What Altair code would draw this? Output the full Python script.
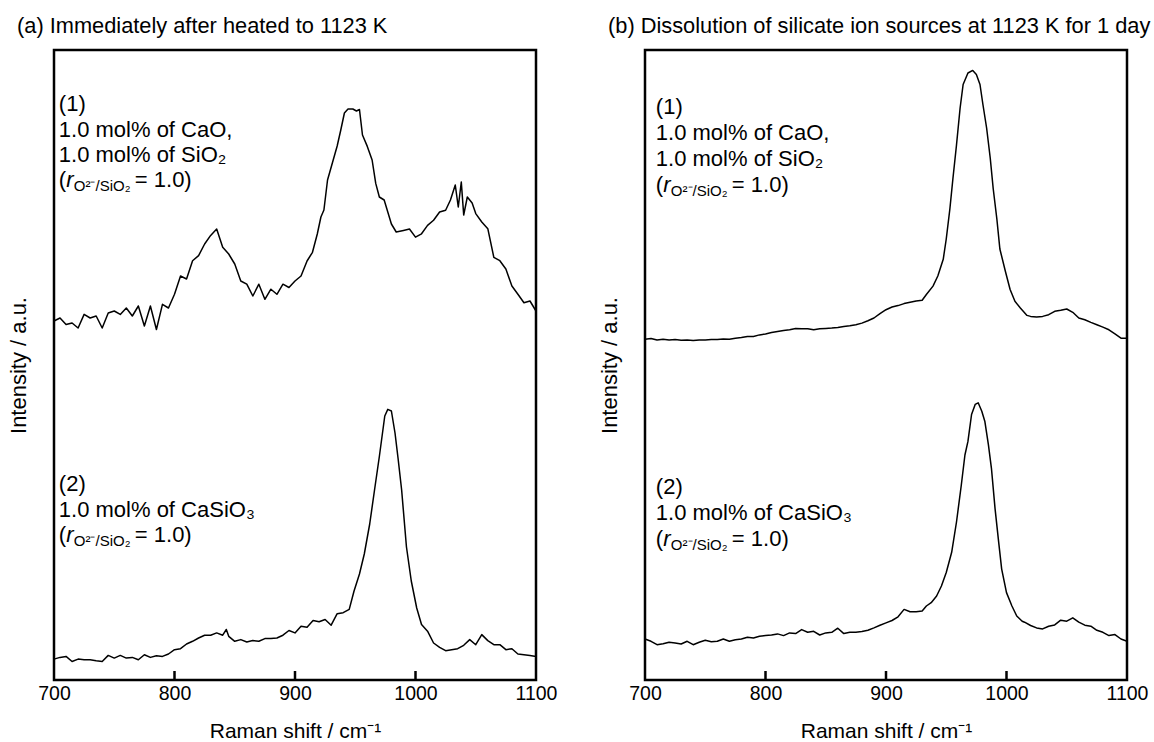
import altair as alt
import pandas as pd

# ---------------- data ----------------
# (a)(1) CaO + SiO2, immediately after heating
a1_x = list(range(700, 915, 5)) + [914.5, 918.5, 921.5, 924, 927, 931, 935, 938, 941, 944, 948, 951,
                                   953.5, 956, 960, 964, 967, 970, 974, 977, 980, 984, 990, 995, 1000,
                                   1005, 1010, 1015, 1020, 1025, 1029, 1033, 1035.5, 1038, 1040, 1043,
                                   1047, 1050, 1055, 1060, 1065, 1070, 1075, 1080, 1085, 1090, 1095, 1100]
a1_y = [359, 362, 355.5, 357, 352, 365.6, 362, 364, 352, 367, 369, 365.6, 372, 364, 374, 354, 374, 350.5,
        375.7, 372, 385.7, 404, 401, 419.3, 424.4, 436, 444.6, 451, 432.8, 426, 416, 399, 395.8, 384,
        395.8, 380.7, 390.8, 385.7, 395.8, 392.5, 399, 404, 419,
        427.7, 446, 463, 470, 500, 517, 534, 550, 567, 571, 571, 569, 570.5, 545, 533.6, 520, 496.6, 483,
        480, 468, 456, 448, 449.6, 451, 442.9, 446.2, 454.6, 459.7, 468, 469.8, 480, 495, 473, 498, 465,
        483, 477, 466.4, 458, 451.3, 422.7, 419.3, 411, 394, 385.7, 377.3, 379, 369]

# (a)(2) CaSiO3, immediately after heating
a2_x = list(range(700, 845, 5)) + [843] + list(range(845, 945, 5)) + [
    945, 949, 953.5, 957.5, 962, 966, 970, 974.5, 977, 980, 983, 985.5, 988.5, 992.5, 996.5, 1001, 1005
] + list(range(1010, 1105, 5))
a2_y = [20.9, 22.6, 23.6, 18.5, 20.9, 20.2, 20.2, 19.2, 18.5, 24.6, 21.9, 24.6, 21.9, 22.6, 20.2, 25.3,
        22.6, 24.3, 23.6, 26, 30.3, 31.3, 36, 38.7, 42, 44.8, 44.8, 47.1, 44.8, 50.5, 43.7, 38.7, 40.4, 38,
        39.4, 38.7, 41.4, 41.4, 42, 44.8, 49.5, 47.1, 53.8, 52.8, 59.5, 58.2, 60.5, 54.8, 66.3, 67.3,
        70.6, 89, 106, 126, 156, 190, 223.5, 264, 270.6, 269, 247, 222, 190, 133, 99, 72, 55.5,
        48.8, 37, 32.7, 29.3, 30.3, 31.3, 34.7, 40.4, 35.3, 45.4, 39.4, 35.3, 35.3, 30.3, 31.3, 26, 25.3,
        24.6, 23.6]

# (b)(1) CaO + SiO2, after 1 day
b1_x = list(range(700, 935, 5)) + [933.5, 939, 943, 947.5, 950, 953, 955.5, 958.5, 961.5, 964, 968, 972,
                                   975, 978, 980.5, 983.5, 986.5, 989, 992, 994.5, 999, 1003, 1007,
                                   1011.5, 1017] + list(range(1020, 1105, 5))
b1_y = [340.8, 341.4, 340.1, 340.8, 340.1, 340.4, 339.8, 340.1, 339.4, 340.1, 340.1, 340.4, 340.4, 341.1,
        340.8, 341.8, 342.5, 343.5, 343.5, 345.1, 346.1, 347.5, 348.5, 349.5, 350.2, 351.5, 351.2, 351.2,
        350.2, 351.2, 351.5, 351.9, 352.5, 353.5, 354.2, 355.2, 356.9, 359.3, 362, 366.3, 370.3, 373,
        374.4, 376.4, 377.7, 379.1, 379.8,
        385.5, 393.9, 404, 420.7, 441, 471, 501, 535, 572, 595.5, 607, 609.6, 605.6, 595.5, 575, 552, 522,
        491, 461, 431, 409, 390.5, 378.7, 372, 364.6,
        363.6, 362.9, 363.6, 365.3, 368.7, 369.7, 371, 367.7, 362, 360.3, 357.6, 355.2, 352.9, 350.2,
        346.1, 341.8, 341.8]

# (b)(2) CaSiO3, after 1 day
b2_x = list(range(700, 935, 5)) + [933.5, 937.5, 942, 946, 950, 954.5, 958.5, 962.5, 965.5, 968, 971,
                                   974, 976.5, 979.5, 982, 985, 987.5, 990.5, 993.5, 996, 1000, 1004.5,
                                   1008.5, 1013] + list(range(1015, 1105, 5))
b2_y = [41, 38.7, 35.3, 36.3, 37.7, 37, 36, 38.7, 35.3, 37.7, 39.7, 38.3, 38.7, 41, 38.7, 40.3, 41, 42.7,
        42, 43.7, 44.4, 45, 46.1, 44.4, 47.1, 46.4, 50.4, 47.7, 48.7, 45, 47.1, 47.7, 51.8, 46.4, 47.7,
        47.7, 48.4, 49.7, 52.1, 54.8, 57.1, 59.5, 63.2, 70.6, 68.2, 68.2, 68.9,
        74, 77.3, 84, 94, 107.5, 127.7, 158, 195, 225, 238.6, 265.5, 275.6, 277.2, 268.8, 258.8, 235.2,
        211.7, 171.4, 137.8, 110.9, 87.4, 74, 64, 58.8,
        57.8, 54.5, 52.1, 51.1, 53.8, 55.1, 59.8, 58.8, 62.2, 57.8, 54.8, 53.8, 49.7, 47.7, 44.4, 45.4,
        41, 38.7]

x_ticks = [700, 800, 900, 1000, 1100]
inner_ticks = [800, 900, 1000]

titles = ["(a) Immediately after heated to 1123 K",
          "(b) Dissolution of silicate ion sources at 1123 K for 1 day"]

top_lines = ["(1)", "1.0 mol% of CaO,", "1.0 mol% of SiO₂", "("]
bot_lines = ["(2)", "1.0 mol% of CaSiO₃", "("]
left_ann_x = 704
left_top_y = [569, 543, 518, 493]
left_bot_y = [189, 163, 138]
right_ann_x = 709
right_top_y = [566, 540, 514, 488]
right_bot_y = [186, 160, 134]

# ---------------- chart ----------------
FONT = "Liberation Sans"
W, H = 482, 630
ANN_FS = 22

assert len(a1_x) == len(a1_y), (len(a1_x), len(a1_y))
assert len(a2_x) == len(a2_y), (len(a2_x), len(a2_y))
assert len(b1_x) == len(b1_y), (len(b1_x), len(b1_y))
assert len(b2_x) == len(b2_y), (len(b2_x), len(b2_y))


def panel(title, s1x, s1y, s2x, s2y, ax, top_y, bot_y):
    df = pd.concat([
        pd.DataFrame({"shift": s1x, "intensity": s1y, "series": "1"}),
        pd.DataFrame({"shift": s2x, "intensity": s2y, "series": "2"}),
    ])
    xsc = alt.Scale(domain=[700, 1100], nice=False, zero=False)
    ysc = alt.Scale(domain=[0, 630], nice=False, zero=False)

    lines = alt.Chart(df).mark_line(color="black", strokeWidth=1.5, strokeJoin="round").encode(
        x=alt.X("shift:Q", scale=xsc,
                axis=alt.Axis(values=x_ticks, format="d", title="Raman shift / cm⁻¹",
                              ticks=False, domain=False, grid=False, labelFontSize=19.5,
                              labelPadding=4, titleFontSize=21, titlePadding=18,
                              labelFlush=False)),
        y=alt.Y("intensity:Q", scale=ysc,
                axis=alt.Axis(title="Intensity / a.u.", labels=False, ticks=False, domain=False,
                              grid=False, titleFontSize=22, titlePadding=24, minExtent=0, maxExtent=0)),
        detail="series:N",
    )

    ticks = alt.Chart(pd.DataFrame({"shift": inner_ticks})).mark_rule(
        color="black", strokeWidth=2.5).encode(
        x=alt.X("shift:Q", scale=xsc), y=alt.value(H), y2=alt.value(H - 9))

    rows = pd.DataFrame({
        "shift": [ax] * (len(top_lines) + len(bot_lines)),
        "intensity": top_y + bot_y,
        "label": top_lines + bot_lines,
    })
    text = alt.Chart(rows).mark_text(align="left", baseline="alphabetic", fontSize=ANN_FS,
                                     font=FONT, color="black").encode(
        x=alt.X("shift:Q", scale=xsc), y=alt.Y("intensity:Q", scale=ysc), text="label:N")

    ratio = pd.DataFrame({"shift": [ax, ax], "intensity": [top_y[-1], bot_y[-1]]})
    r_it = alt.Chart(ratio).mark_text(align="left", baseline="alphabetic", fontSize=ANN_FS,
                                      font=FONT, fontStyle="italic", color="black", dx=7.5,
                                      text="r").encode(
        x=alt.X("shift:Q", scale=xsc), y=alt.Y("intensity:Q", scale=ysc))
    r_sub = alt.Chart(ratio).mark_text(align="left", baseline="alphabetic", fontSize=15,
                                       font=FONT, color="black", dx=15, dy=4,
                                       text="O²⁻/SiO₂").encode(
        x=alt.X("shift:Q", scale=xsc), y=alt.Y("intensity:Q", scale=ysc))
    r_rest = alt.Chart(ratio).mark_text(align="left", baseline="alphabetic", fontSize=ANN_FS,
                                        font=FONT, color="black", dx=76,
                                        text="= 1.0)").encode(
        x=alt.X("shift:Q", scale=xsc), y=alt.Y("intensity:Q", scale=ysc))

    head = alt.Chart(pd.DataFrame({"t": [title]})).mark_text(
        align="left", baseline="alphabetic", fontSize=21.8, font=FONT, color="black").encode(
        text="t:N", x=alt.value(-37), y=alt.value(-17.5))

    return alt.layer(lines, ticks, text, r_it, r_sub, r_rest, head).properties(width=W, height=H)


left = panel(titles[0], a1_x, a1_y, a2_x, a2_y, left_ann_x, left_top_y, left_bot_y)
right = panel(titles[1], b1_x, b1_y, b2_x, b2_y, right_ann_x, right_top_y, right_bot_y)

chart = alt.hconcat(left, right, spacing=109, bounds="flush").properties(
    padding={"left": 5, "top": 14, "right": 0, "bottom": 5},
    background="white",
).configure_view(
    stroke="black", strokeWidth=2.5
).configure_axis(
    labelFont=FONT, titleFont=FONT, labelColor="black", titleColor="black",
    titleFontWeight="normal"
)

chart.save("out.html", embed_options={"renderer": "svg", "actions": False})
